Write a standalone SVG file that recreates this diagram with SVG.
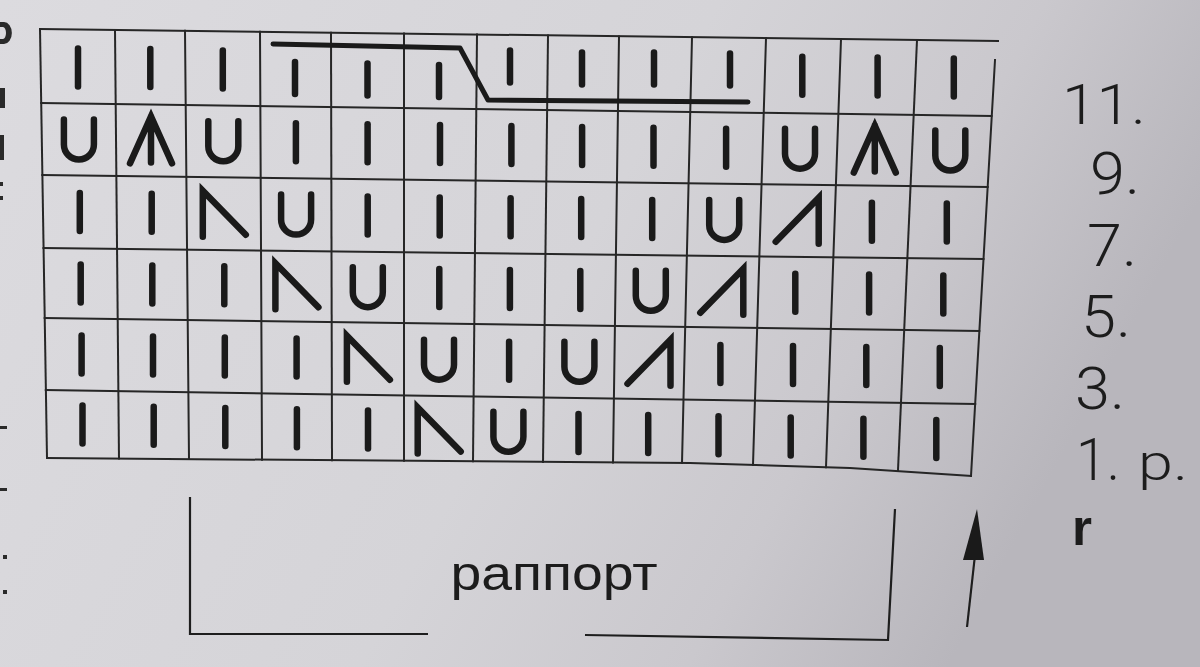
<svg xmlns="http://www.w3.org/2000/svg" xmlns:xlink="http://www.w3.org/1999/xlink" width="1200" height="667" viewBox="0 0 1200 667">
<style>
.grid{stroke:#262626;stroke-width:2;fill:none;stroke-linecap:square}
.sym{stroke:#1a1a1a;stroke-width:6.5;fill:none;stroke-linecap:round;stroke-linejoin:miter;stroke-miterlimit:10}
.cable{stroke:#1a1a1a;stroke-width:5;fill:none;stroke-linecap:round;stroke-linejoin:round}
.lbl{font-family:Roboto,"Liberation Sans",Arial,sans-serif;font-weight:300;fill:#1c1c1c}
.blot{font-family:"Liberation Sans",Arial,sans-serif;font-weight:700;fill:#1c1c1c}
.rap{font-family:"Liberation Sans",Arial,sans-serif;fill:#1c1c1c}
.thin{stroke:#1e1e1e;stroke-width:2.2;fill:none}
.frag{fill:#2a2a2a}
</style>
<defs>
<linearGradient id="bg" x1="0" y1="0" x2="1" y2="0.3">
<stop offset="0" stop-color="#dcdbdf"/>
<stop offset="0.55" stop-color="#d5d4d8"/>
<stop offset="0.8" stop-color="#cac8cd"/>
<stop offset="1" stop-color="#b8b6bc"/>
</linearGradient>
<path id="k" class="sym" d="M0,-19V19"/>
<path id="ks" class="sym" d="M0,-16V16"/>
<path id="u" class="sym" d="M-15,-20V5A15,15 0 0 0 15,5V-20"/>
<path id="a" class="sym" d="M-21,23L0,-24L21,23M0,-24V22"/>
<path id="l" class="sym" d="M-21,23V-23L22,21"/>
<path id="r" class="sym" d="M21,23V-23L-22,21"/>
</defs>
<rect width="1200" height="667" fill="url(#bg)"/>

<g id="page-edge-fragments">
<path class="frag" d="M0,22h4a5,7 0 0 1 0,22h-4v-5h3a2,4 0 0 0 0,-12h-3z"/>
<rect class="frag" x="0" y="88" width="5" height="20"/>
<rect class="frag" x="0" y="135" width="4" height="25"/>
<rect class="frag" x="0" y="182" width="3" height="4"/>
<rect class="frag" x="0" y="196" width="3" height="4"/>
<rect class="frag" x="0" y="426" width="7" height="3"/>
<rect class="frag" x="0" y="488" width="7" height="3"/>
<rect class="frag" x="3" y="555" width="4" height="4"/>
<rect class="frag" x="3" y="590" width="4" height="4"/>
</g>

<g id="grid">
<path class="grid" d="M40,29L998,41"/>
<path class="grid" d="M41.2,103L991.5,116"/>
<path class="grid" d="M42.3,175L987.7,187"/>
<path class="grid" d="M43.5,248L983.5,259"/>
<path class="grid" d="M44.7,318L979.3,331"/>
<path class="grid" d="M45.8,390L975.2,404"/>
<path class="grid" d="M47,458L690,463L850,468L971,476"/>
<path class="grid" d="M40,29L47,458"/>
<path class="grid" d="M115,29.9L119,458.6"/>
<path class="grid" d="M185,30.8L189,459.1"/>
<path class="grid" d="M260,31.8L262,459.7"/>
<path class="grid" d="M331,32.7L332,460.2"/>
<path class="grid" d="M404,33.6L404,460.8"/>
<path class="grid" d="M477,34.5L473,461.3"/>
<path class="grid" d="M548,35.5L543,461.9"/>
<path class="grid" d="M619,36.4L613,462.4"/>
<path class="grid" d="M692,37.3L682,463"/>
<path class="grid" d="M766,38.2L753,464.9"/>
<path class="grid" d="M841,39.2L826,467.2"/>
<path class="grid" d="M917,40.1L898,470"/>
<path class="grid" d="M995,60L971,476"/>
</g>

<g id="cable">
<path class="cable" d="M273,44L460,48L488,100L748,102"/>
</g>

<g id="row-11">
<use href="#k" x="78" y="67.5"/>
<use href="#k" x="150.3" y="68"/>
<use href="#k" x="222.8" y="69.5"/>
<use href="#ks" x="295" y="78"/>
<use href="#ks" x="367.5" y="79.5"/>
<use href="#ks" x="439" y="81"/>
<use href="#ks" x="510" y="66.5"/>
<use href="#ks" x="582" y="68.5"/>
<use href="#ks" x="654" y="68.5"/>
<use href="#ks" x="730" y="69.5"/>
<use href="#k" x="802.3" y="75.7"/>
<use href="#k" x="877.6" y="76.6"/>
<use href="#k" x="953.8" y="77.5"/>
</g>

<g id="row-9">
<use href="#u" x="78.9" y="139.5"/>
<use href="#a" x="151" y="140.4"/>
<use href="#u" x="223.3" y="141.3"/>
<use href="#k" x="295.9" y="142.2"/>
<use href="#k" x="367.6" y="143.2"/>
<use href="#k" x="440" y="144.1"/>
<use href="#k" x="511.4" y="145"/>
<use href="#k" x="582.1" y="145.9"/>
<use href="#k" x="653.5" y="146.8"/>
<use href="#k" x="726.1" y="147.8"/>
<use href="#u" x="800" y="148.7"/>
<use href="#a" x="874.8" y="149.6"/>
<use href="#u" x="950.3" y="150.5"/>
</g>

<g id="row-7">
<use href="#k" x="79.8" y="211.9"/>
<use href="#k" x="151.7" y="212.8"/>
<use href="#l" x="223.8" y="213.7"/>
<use href="#u" x="296.1" y="214.6"/>
<use href="#k" x="367.7" y="215.5"/>
<use href="#k" x="439.7" y="216.4"/>
<use href="#k" x="510.6" y="217.3"/>
<use href="#k" x="581.2" y="218.1"/>
<use href="#k" x="652.2" y="219"/>
<use href="#u" x="724.2" y="219.9"/>
<use href="#r" x="797.7" y="220.8"/>
<use href="#k" x="871.9" y="221.7"/>
<use href="#k" x="946.8" y="222.6"/>
</g>

<g id="row-5">
<use href="#k" x="80.7" y="283.5"/>
<use href="#k" x="152.3" y="284.4"/>
<use href="#k" x="224.3" y="285.3"/>
<use href="#l" x="296.4" y="286.2"/>
<use href="#u" x="367.8" y="287.2"/>
<use href="#k" x="439.3" y="288.1"/>
<use href="#k" x="509.9" y="289"/>
<use href="#k" x="580.3" y="289.9"/>
<use href="#u" x="650.8" y="290.8"/>
<use href="#r" x="722.3" y="291.8"/>
<use href="#k" x="795.3" y="292.7"/>
<use href="#k" x="869.1" y="293.6"/>
<use href="#k" x="943.3" y="294.5"/>
</g>

<g id="row-3">
<use href="#k" x="81.6" y="354.5"/>
<use href="#k" x="153" y="355.6"/>
<use href="#k" x="224.8" y="356.6"/>
<use href="#k" x="296.6" y="357.6"/>
<use href="#l" x="367.9" y="358.7"/>
<use href="#u" x="439" y="359.7"/>
<use href="#k" x="509.1" y="360.8"/>
<use href="#u" x="579.4" y="361.8"/>
<use href="#r" x="649.5" y="362.8"/>
<use href="#k" x="720.4" y="363.9"/>
<use href="#k" x="793" y="364.9"/>
<use href="#k" x="866.3" y="365.9"/>
<use href="#k" x="939.8" y="367"/>
</g>

<g id="row-1">
<use href="#k" x="82.5" y="424.6"/>
<use href="#k" x="153.7" y="425.8"/>
<use href="#k" x="225.3" y="427"/>
<use href="#k" x="296.9" y="428.2"/>
<use href="#k" x="368" y="429.4"/>
<use href="#l" x="438.7" y="430.6"/>
<use href="#u" x="508.4" y="431.8"/>
<use href="#k" x="578.5" y="432.9"/>
<use href="#k" x="648.2" y="434.1"/>
<use href="#k" x="718.5" y="435.3"/>
<use href="#k" x="790.7" y="436.5"/>
<use href="#k" x="863.4" y="437.7"/>
<use href="#k" x="936.3" y="438.9"/>
</g>

<g id="row-labels">
<text class="lbl" x="1062" y="124" font-size="56" textLength="84" lengthAdjust="spacingAndGlyphs">11.</text>
<text class="lbl" x="1090" y="194" font-size="60" textLength="50" lengthAdjust="spacingAndGlyphs">9.</text>
<text class="lbl" x="1087" y="266" font-size="60" textLength="50" lengthAdjust="spacingAndGlyphs">7.</text>
<text class="lbl" x="1081" y="337" font-size="60" textLength="50" lengthAdjust="spacingAndGlyphs">5.</text>
<text class="lbl" x="1075" y="409" font-size="60" textLength="50" lengthAdjust="spacingAndGlyphs">3.</text>
<text class="lbl" x="1076" y="480" font-size="60" textLength="44" lengthAdjust="spacingAndGlyphs">1.</text>
<text class="lbl" x="1138" y="480" font-size="50" textLength="50" lengthAdjust="spacingAndGlyphs">р.</text>
<text class="blot" x="1072" y="545" font-size="50" textLength="20" lengthAdjust="spacingAndGlyphs">r</text>
</g>

<g id="rapport">
<path class="thin" d="M190,497V634H428"/>
<path class="thin" d="M585,635L888,640L895,509"/>
<text class="rap" x="554" y="590" font-size="48" text-anchor="middle" textLength="207" lengthAdjust="spacingAndGlyphs">раппорт</text>
</g>

<g id="direction-arrow">
<path class="thin" d="M967,627L975,555" stroke-width="2.5"/>
<polygon points="977,509 963,560 984,560" fill="#1a1a1a"/>
</g>
</svg>
